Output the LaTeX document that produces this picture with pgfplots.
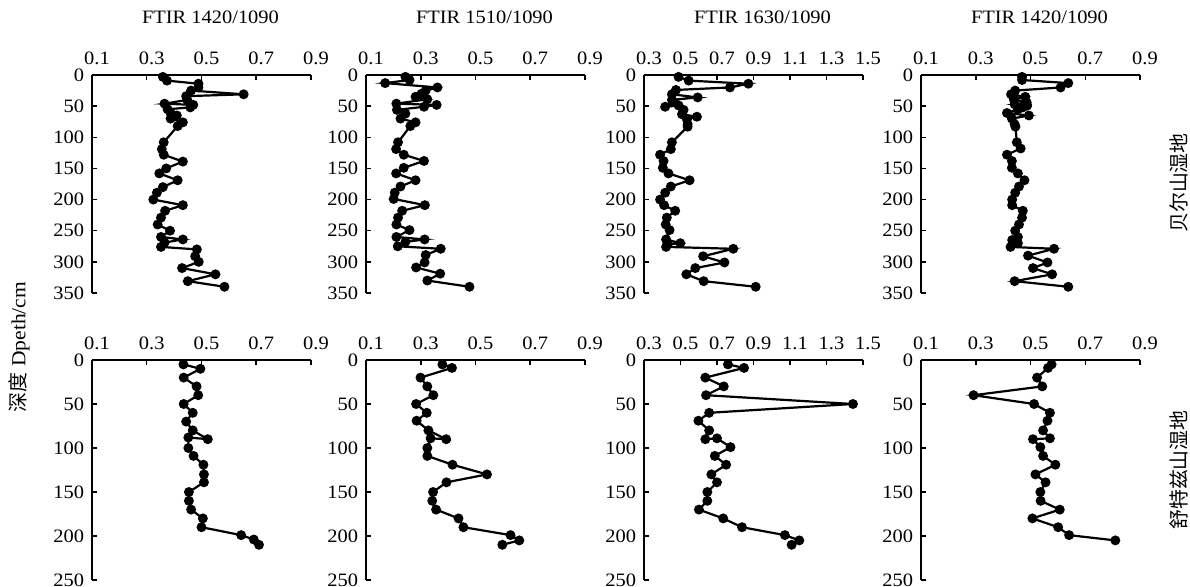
\documentclass[border=0pt]{standalone}
\usepackage{fontspec}
\setmainfont{Liberation Serif}[FakeStretch=1.08]
\newfontfamily\cjk{Noto Sans CJK SC}
\usepackage{pgfplots}
\pgfplotsset{compat=1.18}

\pgfplotsset{
  depth/.style={
    scale only axis, width=219bp,
    y dir=reverse,
    axis x line=top, axis y line=left,
    x axis line style={-, line width=2bp},
    y axis line style={-, line width=2bp},
    tick align=inside, major tick length=5bp,
    tick style={black, line width=1.5bp},
    xmin=0.1, xmax=0.9, xtick={0.1,0.3,0.5,0.7,0.9},
    ymin=0,
    /pgf/number format/assume math mode=true,
    xticklabel style={/pgf/number format/fixed, /pgf/number format/fixed zerofill, /pgf/number format/precision=1, xshift=5bp},
    tick label style={font=\fontsize{19}{22}\selectfont},
    xticklabel shift=7bp, yticklabel shift=4.5bp,
    title style={at={(0.5,1)}, anchor=center, yshift=52bp, xshift=9bp, font=\fontsize{19}{22}\selectfont},
    every axis plot post/.append style={black, line width=2.2bp, mark=*, mark size=3.8bp, mark options={solid, fill=black}},
  },
  toprow/.style={depth, height=218bp, ymax=350, ytick={0,50,...,350}},
  botrow/.style={depth, height=220bp, ymax=250, ytick={0,50,...,250}},
  wide/.style={xmin=0.3, xmax=1.5, xtick={0.3,0.5,0.7,0.9,1.1,1.3,1.5}},
}

\begin{document}
\begin{tikzpicture}
\useasboundingbox (0,0) rectangle (1190bp,-587bp);

% ---- top row: 贝尔山湿地
\begin{axis}[toprow, at={(92bp,-75bp)}, anchor=north west, title={FTIR 1420/1090}]
\addplot coordinates {
(0.359,3) (0.374,9) (0.489,14) (0.489,20) (0.462,25) (0.654,31) (0.444,34) (0.448,40)
(0.365,46) (0.47,48) (0.459,52) (0.376,55) (0.388,62) (0.41,65) (0.387,70) (0.432,76)
(0.413,82) (0.362,108) (0.355,119) (0.362,128) (0.432,139) (0.371,150) (0.346,158)
(0.413,169) (0.359,180) (0.337,189) (0.324,200) (0.432,209) (0.367,218) (0.352,229)
(0.34,240) (0.385,250) (0.352,260) (0.432,264) (0.365,269) (0.352,276) (0.483,280)
(0.477,291) (0.49,300) (0.429,310) (0.551,320) (0.45,331) (0.584,340)
};
\end{axis}

\begin{axis}[toprow, at={(366bp,-75bp)}, anchor=north west, title={FTIR 1510/1090}]
\addplot coordinates {
(0.244,3) (0.259,8) (0.170,13) (0.361,20) (0.318,25) (0.303,30) (0.281,35) (0.324,39)
(0.211,46) (0.358,48) (0.312,51) (0.213,56) (0.244,62) (0.226,70) (0.281,76) (0.262,82)
(0.217,108) (0.210,119) (0.238,128) (0.312,138) (0.238,149) (0.210,158) (0.281,169)
(0.226,179) (0.205,189) (0.201,199) (0.315,209) (0.232,218) (0.217,229) (0.211,240)
(0.259,249) (0.211,260) (0.314,264) (0.244,268) (0.216,275) (0.373,279) (0.318,289)
(0.314,301) (0.283,309) (0.371,319) (0.324,330) (0.478,340)
};
\end{axis}

\begin{axis}[toprow, wide, at={(644bp,-75bp)}, anchor=north west, title={FTIR 1630/1090}]
\addplot coordinates {
(0.489,3) (0.545,9) (0.872,14) (0.771,20) (0.475,24) (0.453,31) (0.594,36) (0.453,40)
(0.467,44) (0.416,51) (0.49,49) (0.517,56) (0.508,63) (0.59,67) (0.535,71) (0.539,79)
(0.539,83) (0.453,108) (0.447,119) (0.388,128) (0.407,138) (0.403,149) (0.434,158)
(0.55,169) (0.447,179) (0.416,189) (0.388,200) (0.41,209) (0.471,218) (0.425,229)
(0.419,240) (0.44,249) (0.421,264) (0.499,270) (0.429,272) (0.421,276) (0.789,279)
(0.624,291) (0.741,301) (0.581,310) (0.532,320) (0.627,331) (0.912,340)
};
\end{axis}

\begin{axis}[toprow, at={(921bp,-75bp)}, anchor=north west, title={FTIR 1420/1090}]
\addplot coordinates {
(0.469,3) (0.469,8) (0.638,13) (0.61,20) (0.444,25) (0.429,31) (0.481,35) (0.439,39)
(0.486,44) (0.442,47) (0.488,49) (0.472,52) (0.454,55) (0.414,61) (0.494,65) (0.432,70)
(0.442,79) (0.445,83) (0.450,108) (0.464,118) (0.414,128) (0.432,138) (0.432,149)
(0.454,158) (0.478,169) (0.458,179) (0.444,189) (0.433,200) (0.433,209) (0.472,218)
(0.469,229) (0.458,240) (0.444,250) (0.454,260) (0.433,265) (0.454,270) (0.427,276)
(0.586,279) (0.491,290) (0.562,301) (0.509,310) (0.579,320) (0.442,331) (0.638,340)
};
\end{axis}

% ---- bottom row: 舒特兹山湿地
\begin{axis}[botrow, at={(92bp,-360bp)}, anchor=north west]
\addplot coordinates {
(0.434,5) (0.496,10) (0.435,20) (0.482,30) (0.488,40) (0.435,50) (0.468,60) (0.444,70)
(0.468,80) (0.523,90) (0.452,88) (0.452,100) (0.471,109) (0.507,119) (0.509,130)
(0.509,139) (0.454,150) (0.454,160) (0.462,170) (0.505,180) (0.50,190) (0.645,199)
(0.691,204) (0.71,210)
};
\end{axis}

\begin{axis}[botrow, at={(366bp,-360bp)}, anchor=north west]
\addplot coordinates {
(0.379,5) (0.414,9) (0.299,20) (0.324,30) (0.346,40) (0.283,50) (0.322,60) (0.285,69)
(0.328,80) (0.393,90) (0.336,89) (0.324,100) (0.324,109) (0.416,119) (0.542,130)
(0.394,139) (0.345,150) (0.342,160) (0.356,170) (0.438,180) (0.456,190) (0.628,199)
(0.66,205) (0.598,210)
};
\end{axis}

\begin{axis}[botrow, wide, at={(644bp,-360bp)}, anchor=north west]
\addplot coordinates {
(0.76,5) (0.848,9) (0.636,20) (0.737,30) (0.64,40) (1.445,50) (0.657,60) (0.598,69)
(0.657,80) (0.636,90) (0.70,89) (0.774,99) (0.688,109) (0.75,119) (0.669,130)
(0.70,139) (0.647,150) (0.647,160) (0.601,170) (0.734,180) (0.837,190) (1.072,199)
(1.151,205) (1.109,210)
};
\end{axis}

\begin{axis}[botrow, at={(921bp,-360bp)}, anchor=north west]
\addplot coordinates {
(0.577,5) (0.564,9) (0.524,20) (0.543,30) (0.292,40) (0.513,50) (0.571,60) (0.562,69)
(0.546,80) (0.571,89) (0.509,90) (0.536,99) (0.546,109) (0.591,119) (0.518,130)
(0.555,139) (0.536,150) (0.537,160) (0.607,170) (0.507,180) (0.601,190) (0.641,199)
(0.81,205)
};
\end{axis}

\node[rotate=90, font=\fontsize{20}{22}\selectfont] at (19bp,-347bp) {\cjk 深度\rmfamily\ Dpeth/cm};
\node[rotate=90, font=\fontsize{20}{22}\selectfont] at (1179bp,-183bp) {\cjk 贝尔山湿地};
\node[rotate=90, font=\fontsize{20}{22}\selectfont] at (1179bp,-470bp) {\cjk 舒特兹山湿地};
\end{tikzpicture}
\end{document}
